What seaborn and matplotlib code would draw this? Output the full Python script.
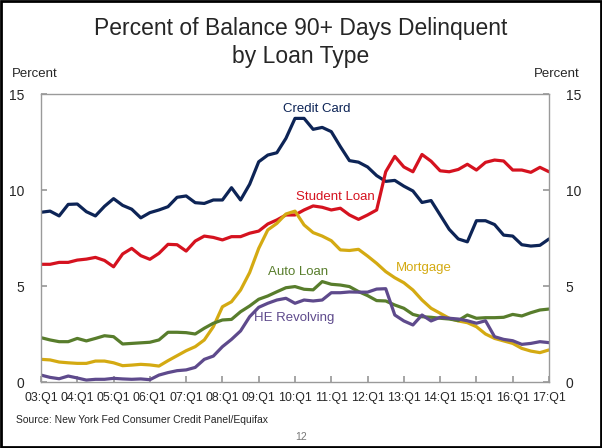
import seaborn as sns
import matplotlib.pyplot as plt
import pandas as pd
from matplotlib.patches import Rectangle

# quarterly data, 03:Q1 .. 17:Q1
quarters = [f"{y:02d}:Q{q}" for y in range(3, 18) for q in range(1, 5)][:57]
tick_labels = [f"{y:02d}:Q1" for y in range(3, 18)]

credit_card = [8.84, 8.9, 8.65, 9.25, 9.27, 8.87, 8.65, 9.15, 9.55, 9.2, 9.0, 8.55,
               8.82, 8.96, 9.13, 9.62, 9.69, 9.34, 9.3, 9.48, 9.48, 10.12, 9.48, 10.3,
               11.47, 11.82, 11.94, 12.69, 13.73, 13.73, 13.16, 13.26, 13.04, 12.26, 11.53, 11.45,
               11.2, 10.75, 10.45, 10.5, 10.2, 9.95, 9.35, 9.45, 8.7, 7.95, 7.45, 7.3,
               8.4, 8.4, 8.2, 7.65, 7.6, 7.15, 7.08, 7.12, 7.45]
student_loan = [6.13, 6.13, 6.23, 6.23, 6.35, 6.4, 6.49, 6.33, 6.0, 6.67, 6.96, 6.58,
                6.39, 6.7, 7.17, 7.15, 6.82, 7.34, 7.6, 7.53, 7.4, 7.57, 7.57, 7.75,
                7.86, 8.23, 8.44, 8.7, 8.7, 8.96, 9.17, 9.1, 8.96, 9.05, 8.7, 8.47,
                8.7, 8.96, 10.95, 11.75, 11.2, 10.95, 11.85, 11.5, 11.0, 10.95, 11.07, 11.34,
                11.04, 11.44, 11.56, 11.51, 11.04, 11.04, 10.92, 11.18, 10.95]
mortgage = [1.18, 1.15, 1.04, 1.0, 0.97, 0.97, 1.09, 1.09, 1.0, 0.85, 0.88, 0.92,
            0.89, 0.83, 1.11, 1.37, 1.63, 1.84, 2.19, 2.88, 3.92, 4.18, 4.79, 5.7,
            6.96, 7.92, 8.26, 8.75, 8.9, 8.18, 7.78, 7.6, 7.36, 6.88, 6.85, 6.91,
            6.56, 6.18, 5.75, 5.43, 5.17, 4.79, 4.27, 3.84, 3.58, 3.32, 3.18, 3.09,
            2.88, 2.5, 2.27, 2.14, 2.01, 1.75, 1.61, 1.53, 1.67]
auto_loan = [2.31, 2.19, 2.1, 2.1, 2.27, 2.14, 2.27, 2.41, 2.36, 1.98, 2.01, 2.04,
             2.07, 2.19, 2.59, 2.59, 2.57, 2.5, 2.8, 3.06, 3.23, 3.26, 3.66, 3.96,
             4.31, 4.48, 4.7, 4.91, 4.97, 4.83, 4.8, 5.23, 5.09, 5.05, 4.97, 4.71,
             4.5, 4.24, 4.22, 4.01, 3.84, 3.52, 3.4, 3.37, 3.32, 3.28, 3.2, 3.49,
             3.32, 3.35, 3.35, 3.37, 3.52, 3.44, 3.61, 3.75, 3.8]
he_revolving = [0.36, 0.24, 0.17, 0.31, 0.21, 0.1, 0.14, 0.14, 0.19, 0.16, 0.14, 0.16,
                0.12, 0.36, 0.49, 0.59, 0.63, 0.76, 1.18, 1.35, 1.84, 2.22, 2.66, 3.4,
                3.89, 4.1, 4.27, 4.36, 4.1, 4.27, 4.22, 4.27, 4.65, 4.65, 4.69, 4.68,
                4.68, 4.84, 4.86, 3.49, 3.18, 2.97, 3.49, 3.18, 3.37, 3.32, 3.28, 3.19,
                3.06, 3.19, 2.36, 2.22, 2.15, 1.96, 2.01, 2.1, 2.05]

series = {
    "Credit Card": credit_card,
    "Student Loan": student_loan,
    "Mortgage": mortgage,
    "Auto Loan": auto_loan,
    "HE Revolving": he_revolving,
}
colors = {
    "Credit Card": "#0d2456",
    "Student Loan": "#d5121f",
    "Mortgage": "#d4aa12",
    "Auto Loan": "#587d2c",
    "HE Revolving": "#5e4a8c",
}

df = pd.concat([
    pd.DataFrame({"t": range(len(v)), "quarter": quarters, "value": v, "type": k})
    for k, v in series.items()
])

sns.set_theme(style="white")
plt.rcParams["font.family"] = ["Liberation Sans", "DejaVu Sans"]

fig = plt.figure(figsize=(6.02, 4.48), dpi=100)
ax = fig.add_axes([41 / 602, 66 / 448, 508 / 602, 288 / 448])

sns.lineplot(data=df, x="t", y="value", hue="type", palette=colors,
             linewidth=2.3, legend=False, ax=ax)

ax.set_xlim(0, 56)
ax.set_ylim(0, 15)
ax.set_xticks(range(0, 57, 4))
ax.set_xticklabels(tick_labels)
ax.set_yticks([0, 5, 10, 15])
ax.tick_params(axis="both", direction="in", length=4, color="#9a9a9a",
               labelsize=10, bottom=True, left=True, right=True,
               labelright=True)
ax.tick_params(axis="x", labelsize=8.9, pad=7)
ax.tick_params(axis="y", pad=12)
ax.set_xlabel("")
ax.set_ylabel("")
for s in ax.spines.values():
    s.set_color("#9a9a9a")
    s.set_linewidth(1.0)

# line labels
ax.text(30.4, 14.2, "Credit Card", color=colors["Credit Card"], fontsize=9.5, ha="center", va="center")
ax.text(32.4, 9.63, "Student Loan", color=colors["Student Loan"], fontsize=9.5, ha="center", va="center")
ax.text(42.2, 5.94, "Mortgage", color=colors["Mortgage"], fontsize=9.5, ha="center", va="center")
ax.text(28.3, 5.73, "Auto Loan", color=colors["Auto Loan"], fontsize=9.5, ha="center", va="center")
ax.text(27.9, 3.33, "HE Revolving", color=colors["HE Revolving"], fontsize=9.5, ha="center", va="center")

fig.text(0.5, 1 - 28 / 448, "Percent of Balance 90+ Days Delinquent", ha="center", va="center", fontsize=16.5)
fig.text(0.5, 1 - 57 / 448, "by Loan Type", ha="center", va="center", fontsize=16.5)
fig.text(35 / 602, 1 - 74 / 448, "Percent", ha="center", va="center", fontsize=9.5)
fig.text(557 / 602, 1 - 74 / 448, "Percent", ha="center", va="center", fontsize=9.5)
fig.text(16 / 602, 1 - 420 / 448, "Source: New York Fed Consumer Credit Panel/Equifax",
         ha="left", va="center", fontsize=7.5)
fig.text(301 / 602, 1 - 437 / 448, "12", ha="center", va="center", fontsize=7.5, color="#777777")

fig.patches.append(Rectangle((0.001, 0.002), 0.997, 0.996, transform=fig.transFigure,
                             fill=False, edgecolor="black", linewidth=2))

fig.savefig("out.png", dpi=100)
